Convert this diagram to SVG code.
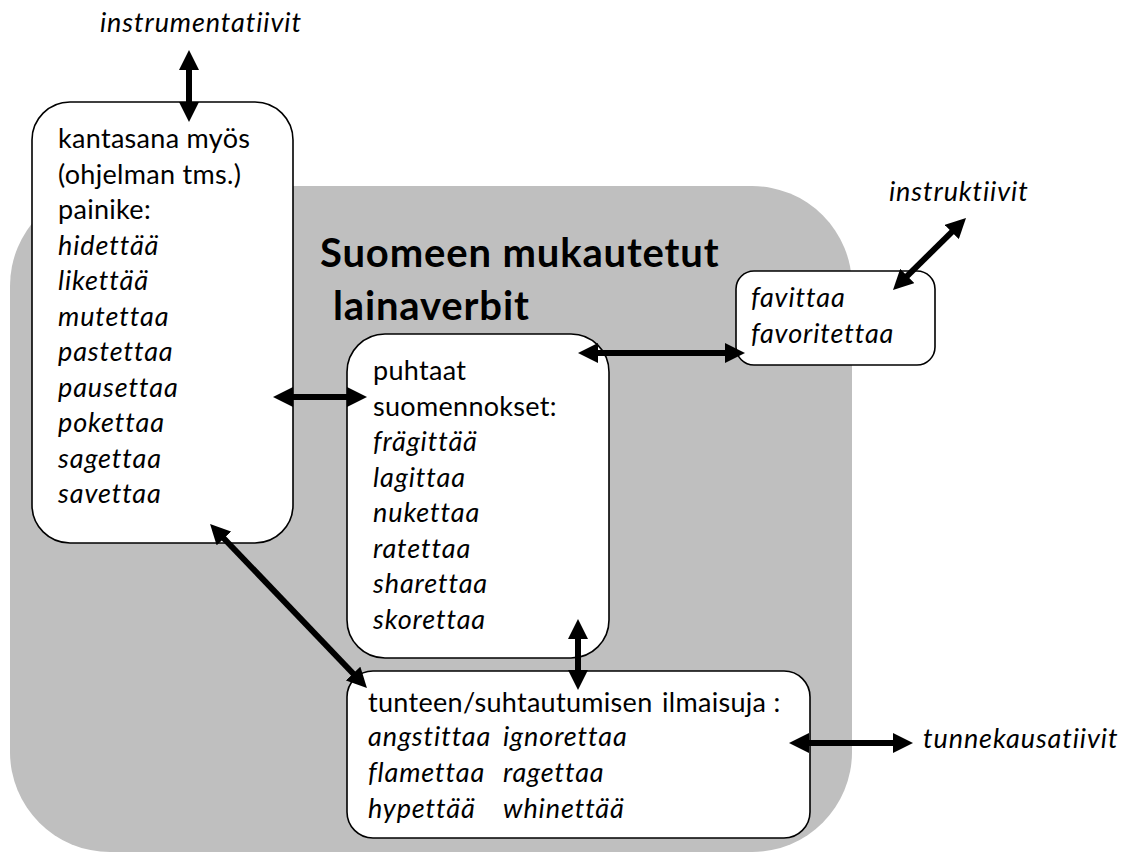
<svg xmlns="http://www.w3.org/2000/svg" width="1126" height="854" viewBox="0 0 1126 854">
  <style>
    .box { fill: #ffffff; stroke: #000000; stroke-width: 1.6; }
    .t { font-family: Lato, "Open Sans", "Liberation Sans", sans-serif; font-size: 27px; letter-spacing: 0.3px; fill: #000000; font-variant-ligatures: none; }
    .i { font-style: italic; letter-spacing: 0.9px; }
    .title { font-family: Lato, "Open Sans", "Liberation Sans", sans-serif; font-size: 40px; font-weight: bold; letter-spacing: 0.85px; fill: #000000; }
    .arrow { stroke: #000000; stroke-width: 6; fill: none; marker-start: url(#head); marker-end: url(#head); }
  </style>
  <defs>
    <marker id="head" viewBox="0 0 20 20" markerWidth="20" markerHeight="20" markerUnits="userSpaceOnUse" refX="2" refY="10" orient="auto-start-reverse">
      <path d="M0,0 L20,10 L0,20 z" fill="#000000"/>
    </marker>
  </defs>

  <rect width="1126" height="854" fill="#ffffff"/>

  <!-- shaded area: adapted loan verbs -->
  <g id="adapted-area">
    <rect x="10" y="186" width="842" height="666" rx="100" ry="100" fill="#bfbfbf"/>
    <text class="title" x="320" y="267">Suomeen mukautetut</text>
    <text class="title" x="333" y="320">lainaverbit</text>
  </g>

  <g id="kantasana">
    <rect class="box" x="32" y="102" width="261" height="441" rx="38" ry="38"/>
    <text class="t" x="58" y="148">kantasana myös</text>
    <text class="t" x="58" y="184">(ohjelman tms.)</text>
    <text class="t" x="58" y="219">painike:</text>
    <text class="t i" x="58" y="255">hidettää</text>
    <text class="t i" x="58" y="290">likettää</text>
    <text class="t i" x="58" y="326">mutettaa</text>
    <text class="t i" x="58" y="361">pastettaa</text>
    <text class="t i" x="58" y="397">pausettaa</text>
    <text class="t i" x="58" y="432">pokettaa</text>
    <text class="t i" x="58" y="468">sagettaa</text>
    <text class="t i" x="58" y="503">savettaa</text>
  </g>

  <g id="puhtaat">
    <rect class="box" x="347" y="334" width="262" height="324" rx="38" ry="38"/>
    <text class="t" x="373" y="380">puhtaat</text>
    <text class="t" x="373" y="416">suomennokset:</text>
    <text class="t i" x="373" y="451">frägittää</text>
    <text class="t i" x="373" y="487">lagittaa</text>
    <text class="t i" x="373" y="522">nukettaa</text>
    <text class="t i" x="373" y="558">ratettaa</text>
    <text class="t i" x="373" y="593">sharettaa</text>
    <text class="t i" x="373" y="629">skorettaa</text>
  </g>

  <g id="favittaa">
    <rect class="box" x="736" y="271" width="199" height="94" rx="18" ry="18"/>
    <text class="t i" x="751" y="307">favittaa</text>
    <text class="t i" x="751" y="343">favoritettaa</text>
  </g>

  <g id="tunteen">
    <rect class="box" x="347" y="671" width="463" height="167" rx="26" ry="26"/>
    <text class="t" x="368" y="712">tunteen/suhtautumisen<tspan x="662">ilmaisuja :</tspan></text>
    <text class="t i" x="368" y="746">angstittaa</text>
    <text class="t i" x="503" y="746">ignorettaa</text>
    <text class="t i" x="368" y="782">flamettaa</text>
    <text class="t i" x="503" y="782">ragettaa</text>
    <text class="t i" x="368" y="818">hypettää</text>
    <text class="t i" x="503" y="818">whinettää</text>
  </g>

  <g id="instrumentatiivit">
    <text class="t i" x="100" y="32">instrumentatiivit</text>
  </g>
  <g id="instruktiivit">
    <text class="t i" x="889" y="201">instruktiivit</text>
  </g>
  <g id="tunnekausatiivit">
    <text class="t i" x="923" y="748">tunnekausatiivit</text>
  </g>

  <!-- two-headed connectors -->
  <g id="connectors">
    <line class="arrow" x1="189" y1="68" x2="189" y2="104"/>
    <line class="arrow" x1="291" y1="397" x2="349" y2="397"/>
    <line class="arrow" x1="596" y1="353" x2="727" y2="353"/>
    <line class="arrow" x1="905.8" y1="277.4" x2="953.2" y2="230.6"/>
    <line class="arrow" x1="222.5" y1="537" x2="354.5" y2="675"/>
    <line class="arrow" x1="578" y1="637" x2="578" y2="672"/>
    <line class="arrow" x1="807" y1="743" x2="895" y2="743"/>
  </g>
</svg>
